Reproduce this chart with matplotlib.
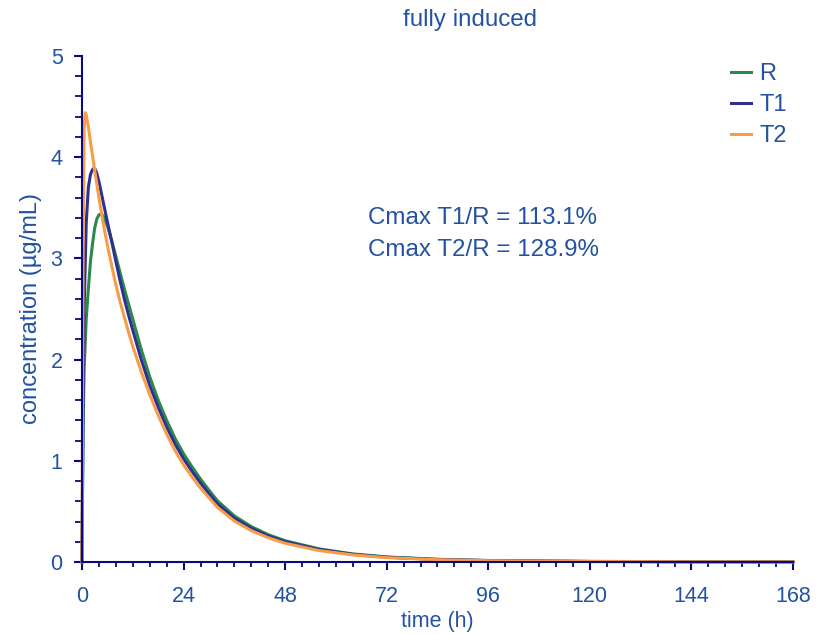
import matplotlib
matplotlib.use("Agg")
import matplotlib.pyplot as plt
from matplotlib.ticker import MultipleLocator

plt.rcParams['font.family'] = ['Liberation Sans', 'DejaVu Sans']

# concentration-time profiles (time in h, conc in ug/mL)
t_R = [0, 0.25, 0.5, 1, 1.5, 2, 2.5, 3, 3.5, 4, 4.5, 5, 6, 7, 8, 9, 10, 11, 12, 14, 16,
       18, 20, 22, 24, 26, 28, 30, 32, 36, 40, 44, 48, 56, 64, 72, 84, 96, 120, 144, 168]
c_R = [0, 1.3, 1.9, 2.4, 2.7, 2.97, 3.15, 3.3, 3.39, 3.43, 3.44, 3.42, 3.32, 3.18, 3.02,
       2.86, 2.70, 2.55, 2.40, 2.10, 1.83, 1.60, 1.40, 1.22, 1.07, 0.94, 0.82, 0.71,
       0.605, 0.455, 0.35, 0.27, 0.21, 0.13, 0.08, 0.05, 0.027, 0.015, 0.006, 0.003, 0.001]

t_T1 = [0, 0.25, 0.5, 1, 1.5, 2, 2.4, 2.75, 3.1, 3.5, 4, 5, 6, 7, 8, 9, 10, 11, 12, 14, 16,
        18, 20, 22, 24, 26, 28, 30, 32, 36, 40, 44, 48, 56, 64, 72, 84, 96, 120, 144, 168]
c_T1 = [0, 1.5, 2.5, 3.35, 3.7, 3.83, 3.87, 3.89, 3.88, 3.84, 3.76, 3.56, 3.36, 3.17,
        2.97, 2.78, 2.60, 2.44, 2.29, 2.00, 1.745, 1.53, 1.335, 1.165, 1.02, 0.895, 0.78,
        0.675, 0.575, 0.432, 0.333, 0.257, 0.20, 0.123, 0.075, 0.047, 0.025, 0.014,
        0.005, 0.002, 0.001]

t_T2 = [0, 0.25, 0.5, 0.75, 1, 1.5, 2, 3, 4, 5, 6, 7, 8, 9, 10, 11, 12, 14, 16, 18,
        20, 22, 24, 26, 28, 30, 32, 36, 40, 44, 48, 56, 64, 72, 84, 96, 120, 144, 168]
c_T2 = [0, 3.0, 4.3, 4.44, 4.42, 4.3, 4.15, 3.87, 3.6, 3.35, 3.13, 2.93, 2.74, 2.57,
        2.42, 2.27, 2.13, 1.88, 1.655, 1.45, 1.265, 1.10, 0.96, 0.84, 0.73, 0.635, 0.54,
        0.405, 0.31, 0.24, 0.185, 0.113, 0.07, 0.043, 0.023, 0.013, 0.005, 0.002, 0.001]

labels = ['R', 'T1', 'T2']
colors = ['#2a8a4a', '#2e3192', '#f89c48']
ratios = ['Cmax T1/R = 113.1%', 'Cmax T2/R = 128.9%']

text_c = '#2352a3'
axis_c = '#0a0a80'

fig = plt.figure(figsize=(8.24, 6.34), dpi=100)
ax = fig.add_axes([82/824, 1 - 562/634, (793-82)/824, (562-56)/634])

for t, c, lab, col in zip([t_R, t_T1, t_T2], [c_R, c_T1, c_T2], labels, colors):
    ax.plot(t, c, color=col, lw=2.2, label=lab, clip_on=False, solid_joinstyle='round')

ax.set_xlim(0, 168)
ax.set_ylim(0, 5)
ax.xaxis.set_major_locator(MultipleLocator(24))
ax.xaxis.set_minor_locator(MultipleLocator(4))
ax.yaxis.set_major_locator(MultipleLocator(1))
ax.yaxis.set_minor_locator(MultipleLocator(0.2))

for s in ['top', 'right']:
    ax.spines[s].set_visible(False)
for s in ['left', 'bottom']:
    ax.spines[s].set_color(axis_c)
    ax.spines[s].set_linewidth(1.5)

ax.tick_params(axis='x', which='major', length=5.5, width=1.5, color=axis_c,
               labelcolor=text_c, labelsize=15.5, pad=12)
ax.tick_params(axis='x', which='minor', length=3.6, width=1.3, color=axis_c)
ax.tick_params(axis='y', which='major', length=6, width=1.5, color=axis_c,
               labelcolor=text_c, labelsize=15.5, pad=8)
ax.tick_params(axis='y', which='minor', length=5, width=1.3, color=axis_c)

ax.set_xlabel('time (h)', color=text_c, fontsize=15.5, labelpad=2.5)
ax.set_ylabel('concentration (µg/mL)', color=text_c, fontsize=17, labelpad=6)

fig.text(470/824, 1 - 20/634, 'fully induced', color=text_c, fontsize=17.4,
         ha='center', va='center')

ax.text(67.6, 3.40, ratios[0], color=text_c, fontsize=17.4, ha='left', va='center')
ax.text(67.6, 3.08, ratios[1], color=text_c, fontsize=17.4, ha='left', va='center')

leg = ax.legend(loc='upper left', bbox_to_anchor=(731/824, 1 - 63/634),
                bbox_transform=fig.transFigure, frameon=False, fontsize=17,
                handlelength=0.85, handletextpad=0.35, labelspacing=0.38,
                borderpad=0, borderaxespad=0)
for txt in leg.get_texts():
    txt.set_color(text_c)

fig.savefig('out.png', dpi=100)
